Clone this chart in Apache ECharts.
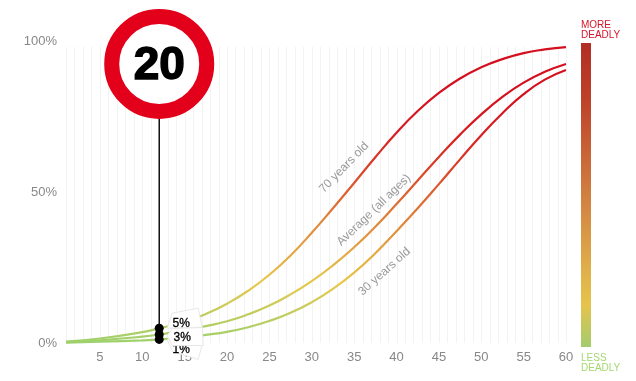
<!DOCTYPE html>
<html>
<head>
<meta charset="utf-8">
<style>
  html, body { margin: 0; padding: 0; background: #fff; }
  #main { width: 636px; height: 381px; }
</style>
<script src="https://cdn.jsdelivr.net/npm/echarts@6/dist/echarts.min.js"></script>
</head>
<body>
<div id="main"></div>
<script>
// 数据：从图上读出来的
var ages = [1, 5, 10, 12, 15, 17.5, 20, 22.5, 25, 27.5, 30, 32.5, 35, 37.5, 40, 42.5, 45, 47.5, 50, 52.5, 55, 57.5, 60];
var seventyYears = [0.5, 1.5, 3.6, 4.9, 7, 9.6, 13, 17.3, 22.6, 29, 36.5, 44.6, 53, 61.5, 69.6, 76.8, 82.8, 87.6, 91.3, 94, 96, 97.2, 98];
var averageAges = [0.3, 0.9, 2.1, 2.8, 4.2, 5.6, 7.2, 9.5, 12.4, 16.1, 20.5, 25.7, 31.7, 38.5, 46, 53.8, 61.6, 69, 75.7, 81.5, 86.2, 89.8, 92.4];
var thirtyYears = [0.15, 0.45, 0.9, 1.2, 1.8, 2.7, 3.7, 5.2, 7.3, 10, 13.5, 17.9, 23.3, 29.7, 37, 44.6, 52.6, 60.8, 68.8, 76.1, 82.4, 87.2, 90.4];
var xTicks = [5, 10, 15, 20, 25, 30, 35, 40, 45, 50, 55, 60];
var speedLimit = "20";
var selectedAge = 12;
var signValue = 92.4;
var gridTopValue = 98;

var FONT = "'Liberation Sans', Arial, sans-serif";
var chart = echarts.init(document.getElementById("main"));

function pairs(values) {
  return ages.map(function (a, i) {
    return [a, values[i]];
  });
}

function curve(name, values) {
  return {
    name: name,
    type: "line",
    data: pairs(values),
    smooth: 0.5,
    showSymbol: false,
    silent: true,
    z: 2,
    lineStyle: { width: 2.2 },
  };
}

// 竖向网格线，只画到 98 的位置
var ageLines = [];
for (var a = 1; a <= 60; a++) ageLines.push([a]);

// 文字标注，挂在曲线的点上，offset 是旋转后的方向
function note(text, age, values, rotate, offset) {
  return {
    value: [age, values[ages.indexOf(age)]],
    label: {
      show: true,
      formatter: text,
      rotate: rotate,
      offset: offset,
      position: "inside",
      color: "#808080",
      fontSize: 12,
      fontFamily: FONT,
    },
  };
}

// 提示牌的形状 5% / 1% / 3%
var tagShapes = [
  { points: [[8, 0], [13, -15], [39, -20], [43, -1]], text: [22, -5] },
  { points: [[8, 0], [13, 12], [39, 20], [43, 5]], text: [22, 10] },
  { points: [[8, 1], [13, -6], [43, -7], [44, 11], [13, 11]], text: [23, 3] },
];
var idx = ages.indexOf(selectedAge);
var tagValues = [seventyYears[idx], thirtyYears[idx], averageAges[idx]];

var option = {
  animation: false,
  backgroundColor: "#fff",
  grid: { left: 66, right: 70, top: 41, bottom: 38 },
  xAxis: {
    type: "value",
    min: 1,
    max: 60,
    axisLine: { show: false },
    axisTick: { show: false },
    splitLine: { show: false },
    axisLabel: {
      customValues: xTicks,
      color: "#888",
      fontSize: 13,
      fontFamily: FONT,
      margin: 8,
    },
  },
  yAxis: {
    type: "value",
    min: 0,
    max: 100,
    interval: 50,
    axisLine: { show: false },
    axisTick: { show: false },
    splitLine: { show: false },
    axisLabel: {
      formatter: "{value}%",
      color: "#888",
      fontSize: 13,
      fontFamily: FONT,
      margin: 9,
    },
  },
  visualMap: {
    show: false,
    type: "continuous",
    dimension: 1,
    seriesIndex: [1, 2, 3],
    min: 0,
    max: 100,
    inRange: {
      color: ["#9dd16c", "#c3cc5d", "#e8c84a", "#e3a742", "#e08639", "#dc5f30", "#d83a28", "#d61d22", "#d5101e", "#d5101e", "#d5101e"],
    },
  },
  graphic: [
    {
      type: "rect",
      shape: { x: 581, y: 43, width: 10, height: 304 },
      style: {
        fill: new echarts.graphic.LinearGradient(0, 0, 0, 1, [
          { offset: 0, color: "#b22d25" },
          { offset: 0.19, color: "#be4229" },
          { offset: 0.5, color: "#d17f41" },
          { offset: 0.75, color: "#e0b04a" },
          { offset: 0.86, color: "#e6c34c" },
          { offset: 1, color: "#a3cc6e" },
        ]),
      },
    },
    {
      type: "text",
      x: 581,
      y: 20,
      style: { text: "MORE\nDEADLY", fill: "#d5152a", font: "10px " + FONT, lineHeight: 10 },
    },
    {
      type: "text",
      x: 581,
      y: 353,
      style: { text: "LESS\nDEADLY", fill: "#a5d870", font: "10px " + FONT, lineHeight: 10 },
    },
  ],
  series: [
    {
      type: "custom",
      data: ageLines,
      silent: true,
      z: 1,
      encode: { x: 0 },
      renderItem: function (params, api) {
        var p0 = api.coord([api.value(0), 0]);
        var p1 = api.coord([api.value(0), gridTopValue]);
        var x = Math.round(p0[0]) + 0.5;
        return {
          type: "line",
          shape: { x1: x, y1: p0[1], x2: x, y2: p1[1] },
          style: { stroke: "#f3f3f3", lineWidth: 1 },
        };
      },
    },
    curve("70 years old", seventyYears),
    curve("Average (all ages)", averageAges),
    curve("30 years old", thirtyYears),
    // 竖线
    {
      type: "line",
      data: [[selectedAge, thirtyYears[idx]], [selectedAge, signValue]],
      showSymbol: false,
      silent: true,
      z: 3,
      lineStyle: { color: "#000", width: 1.4 },
    },
    // 提示牌
    {
      type: "custom",
      data: tagValues.map(function (v) {
        return [selectedAge, v];
      }),
      silent: true,
      z: 4,
      clip: false,
      encode: { x: 0, y: 1 },
      renderItem: function (params, api) {
        var p = api.coord([api.value(0), api.value(1)]);
        var s = tagShapes[params.dataIndex];
        return {
          type: "group",
          children: [
            {
              type: "polygon",
              shape: {
                points: s.points.map(function (o) {
                  return [p[0] + o[0], p[1] + o[1]];
                }),
              },
              style: { fill: "#fff", stroke: "#e8e8e8", lineWidth: 1 },
            },
            {
              type: "text",
              style: {
                text: Math.round(api.value(1)) + "%",
                x: p[0] + s.text[0],
                y: p[1] + s.text[1],
                align: "center",
                verticalAlign: "middle",
                fill: "#000",
                font: "12px " + FONT,
                stroke: "#000",
                lineWidth: 0.3,
              },
            },
          ],
        };
      },
    },
    // 黑点
    {
      type: "scatter",
      data: tagValues.map(function (v) {
        return [selectedAge, v];
      }),
      symbolSize: 9,
      silent: true,
      z: 5,
      clip: false,
      itemStyle: { color: "#000", opacity: 1 },
    },
    // 限速牌
    {
      type: "scatter",
      data: [[selectedAge, signValue]],
      symbolSize: 95,
      silent: true,
      z: 6,
      clip: false,
      itemStyle: { color: "#fff", borderColor: "#e2001a", borderWidth: 15, opacity: 1 },
      label: {
        show: true,
        position: "inside",
        formatter: speedLimit,
        offset: [0, 2],
        color: "#000",
        fontSize: 46,
        fontWeight: "bold",
        fontFamily: FONT,
        textBorderColor: "#000",
        textBorderWidth: 1.5,
      },
    },
    // 曲线上的文字
    {
      type: "scatter",
      symbolSize: 1,
      silent: true,
      z: 7,
      itemStyle: { color: "transparent" },
      data: [
        note("70 years old", 35, seventyYears, 46, [4, -18]),
        note("Average (all ages)", 35, averageAges, 44, [40, -13]),
        note("30 years old", 40, thirtyYears, 42, [-36, 22]),
      ],
    },
  ],
};

chart.setOption(option);
</script>
</body>
</html>
